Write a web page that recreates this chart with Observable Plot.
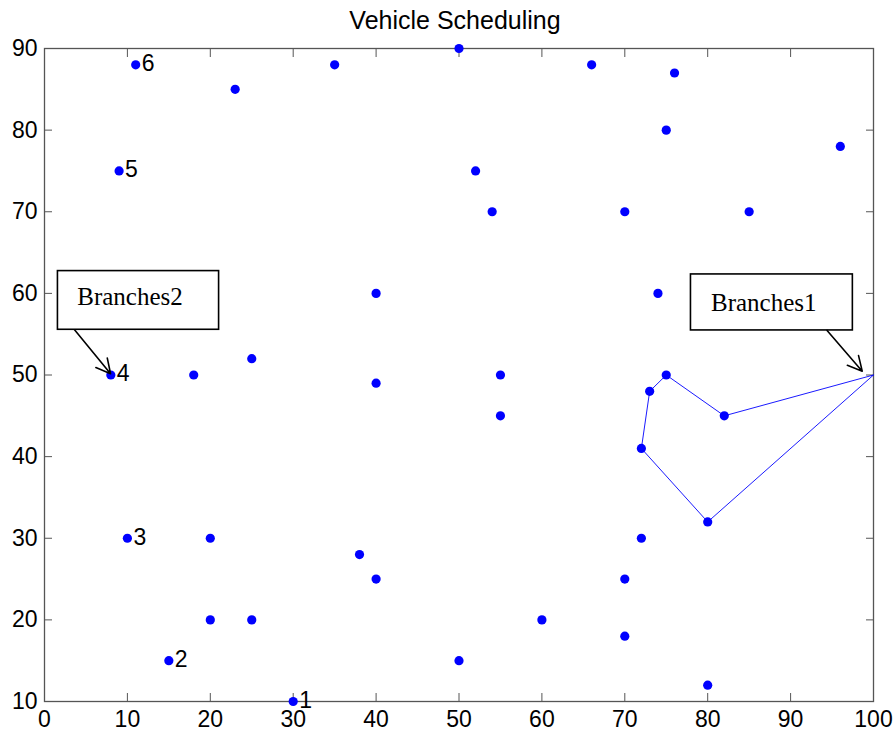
<!DOCTYPE html>
<html>
<head>
<meta charset="utf-8">
<script src="https://cdn.jsdelivr.net/npm/d3@7"></script>
<script src="https://cdn.jsdelivr.net/npm/@observablehq/plot@0.6"></script>
<style>
  html, body { margin: 0; padding: 0; background: white; }
  svg { display: block; }
</style>
</head>
<body>
<div id="chart"></div>
<script>
// Customer locations
const custX = [11, 23, 9, 8, 18, 25, 10, 20, 20, 25, 15, 30, 35, 50, 66, 52, 54, 76, 75, 96, 70, 85, 74, 75, 73, 82, 72, 80, 72, 38, 40, 60, 50, 70, 70, 80, 40, 40, 55, 55];
const custY = [88, 85, 75, 50, 50, 52, 30, 30, 20, 20, 15, 10, 88, 90, 88, 75, 70, 87, 80, 78, 70, 70, 60, 50, 48, 45, 41, 32, 30, 28, 25, 20, 15, 25, 18, 12, 60, 49, 50, 45];

// Branch 1 route (depot at 100,50)
const routeX = [100, 82, 75, 73, 72, 80, 100];
const routeY = [50, 45, 50, 48, 41, 32, 50];

// Numbered points
const labelX = [30, 15, 10, 8, 9, 11];
const labelY = [10, 15, 30, 50, 75, 88];
const labelText = ["1", "2", "3", "4", "5", "6"];

// Ticks
const xTicks = [0, 10, 20, 30, 40, 50, 60, 70, 80, 90, 100];
const yTicks = [10, 20, 30, 40, 50, 60, 70, 80, 90];

const titleText = "Vehicle Scheduling";

// Annotations (data coordinates)
const boxNames = ["Branches2", "Branches1"];
const boxX1 = [1.62, 77.98];
const boxX2 = [21.06, 97.51];
const boxY1 = [55.54, 55.46];
const boxY2 = [62.73, 62.32];
const boxTextX = [3.95, 80.4];
const boxTextY = [59.6, 58.85];
const arrowX1 = [3.62, 94.4];
const arrowY1 = [55.54, 55.46];
const arrowX2 = [7.97, 98.64];
const arrowY2 = [50.15, 50.47];

const customers = custX.map((x, i) => ({x, y: custY[i]}));
const route = routeX.map((x, i) => ({x, y: routeY[i]}));
const labels = labelX.map((x, i) => ({x, y: labelY[i], text: labelText[i]}));
const boxes = boxNames.map((name, i) => ({
  name, x1: boxX1[i], x2: boxX2[i], y1: boxY1[i], y2: boxY2[i],
  tx: boxTextX[i], ty: boxTextY[i],
  ax1: arrowX1[i], ay1: arrowY1[i], ax2: arrowX2[i], ay2: arrowY2[i]
}));

const axisColor = "#555";

const chart = Plot.plot({
  width: 893,
  height: 737,
  marginLeft: 44,
  marginRight: 20,
  marginTop: 48,
  marginBottom: 36,
  style: {fontFamily: "'Liberation Sans', Arial, sans-serif", fontSize: "23px", background: "white", color: "black"},
  x: {domain: [0, 100], label: null},
  y: {domain: [10, 90], label: null},
  marks: [
    Plot.frame({stroke: axisColor, strokeWidth: 1.3}),
    // inward ticks on all four sides
    Plot.axisX(xTicks, {anchor: "bottom", tickSize: -8, tickFormat: () => "", stroke: axisColor, label: null}),
    Plot.axisX(xTicks, {anchor: "top", tickSize: -8, tickFormat: () => "", stroke: axisColor, label: null}),
    Plot.axisY(yTicks, {anchor: "left", tickSize: -8, tickFormat: () => "", stroke: axisColor, label: null}),
    Plot.axisY(yTicks, {anchor: "right", tickSize: -8, tickFormat: () => "", stroke: axisColor, label: null}),
    // tick labels
    Plot.axisX(xTicks, {anchor: "bottom", tickSize: 0, tickPadding: 9, fontSize: 23, fill: "black", label: null}),
    Plot.axisY(yTicks, {anchor: "left", tickSize: 0, tickPadding: 7, fontSize: 23, fill: "black", label: null}),
    // route
    Plot.line(route, {x: "x", y: "y", stroke: "#0000ff", strokeWidth: 0.9}),
    // customers
    Plot.dot(customers, {x: "x", y: "y", r: 4.6, fill: "#0000ff", stroke: null}),
    // numbered labels
    Plot.text(labels, {x: "x", y: "y", text: "text", dx: 6, dy: -1, textAnchor: "start", fontSize: 23, fill: "black"}),
    // annotation boxes
    Plot.rect(boxes, {x1: "x1", x2: "x2", y1: "y1", y2: "y2", fill: "white", stroke: "black", strokeWidth: 1.6}),
    Plot.text(boxes, {x: "tx", y: "ty", text: "name", textAnchor: "start", fontFamily: "'Liberation Serif', 'Times New Roman', serif", fontSize: 25, fill: "black"}),
    Plot.arrow(boxes, {x1: "ax1", y1: "ay1", x2: "ax2", y2: "ay2", stroke: "black", strokeWidth: 1.6, headLength: 15, headAngle: 55, insetStart: 0, insetEnd: 0}),
    // title
    Plot.text([titleText], {frameAnchor: "top", text: d => d, dy: -20, lineAnchor: "bottom", fontSize: 25, fill: "black", dx: -4})
  ]
});

document.getElementById("chart").appendChild(chart);
</script>
</body>
</html>
